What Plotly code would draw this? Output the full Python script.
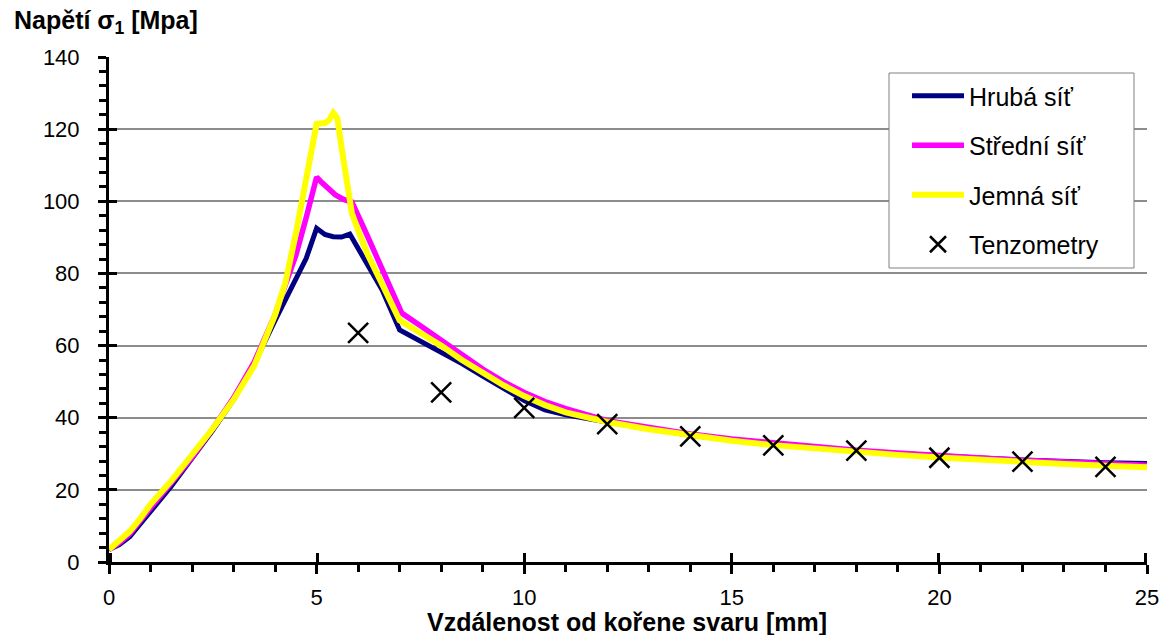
import plotly.graph_objects as go

# Hrubá síť (coarse mesh)
x_hruba = [0, 0.25, 0.5, 0.75, 1, 1.5, 2, 2.5, 3, 3.5, 4, 4.36, 4.75, 5.0, 5.2, 5.4, 5.6, 5.8,
           6.12, 6.58, 7.0, 7.5, 8, 8.5, 9, 9.5, 10, 10.5, 11, 12, 13, 14, 15, 16, 17, 18, 19,
           20, 21, 22, 23, 24, 25]
y_hruba = [3.5, 4.8, 7, 10.3, 14, 21, 28.5, 36.5, 45, 55, 67, 75.4, 84.2, 92.5, 90.8, 90.2, 90.1, 90.9,
           84.6, 75.4, 64.3, 61.3, 58.3, 55, 51.5, 48, 44.8, 42.2, 40.8, 38.8, 36.8, 35.1, 33.8, 32.6,
           31.6, 30.7, 30, 29.3, 28.8, 28.3, 27.8, 27.5, 27.3]

# Střední síť (medium mesh)
x_stredni = [0, 0.25, 0.5, 0.75, 1, 1.5, 2, 2.5, 3, 3.5, 4, 4.25, 4.5, 4.75, 5.0, 5.1, 5.25, 5.45,
             5.65, 5.85, 6.2, 6.6, 7.05, 7.5, 8, 8.5, 9, 9.5, 10, 10.5, 11, 12, 13, 14, 15, 16,
             17, 18, 19, 20, 21, 22, 23, 24, 25]
y_stredni = [3.5, 5.3, 7.8, 11.2, 15, 22, 29, 37, 45.5, 55.5, 68.5, 77, 85, 95.5, 106.7, 105.5, 103.8, 101.8,
             100.5, 99.8, 91, 80.5, 69, 65.5, 61.5, 57.5, 53.5, 50, 47, 44.5, 42.5, 39.2, 37.2, 35.5,
             34.1, 33, 31.9, 31, 30.2, 29.4, 28.8, 28.2, 27.7, 27.2, 26.8]

# Jemná síť (fine mesh)
x_jemna = [0, 0.25, 0.5, 0.75, 1, 1.5, 2, 2.5, 3, 3.5, 4, 4.25, 4.5, 4.75, 4.9, 5.0, 5.2, 5.3,
           5.4, 5.5, 5.6, 5.73, 5.85, 6.0, 6.24, 6.6, 7.0, 7.5, 8, 8.5, 9, 9.5, 10, 10.5, 11, 12,
           13, 14, 15, 16, 17, 18, 19, 20, 21, 22, 23, 24, 25]
y_jemna = [3.5, 6, 8.5, 12, 16, 22.5, 29.5, 37, 45, 54.5, 68.5, 77.5, 91, 106, 116, 121.5, 121.7, 122.5,
           124.5, 123, 115, 106, 96.7, 92, 85, 76.5, 67, 63.5, 60, 56, 52.5, 49, 46, 43.5, 41.5, 38.8,
           36.8, 35, 33.6, 32.4, 31.4, 30.5, 29.7, 29, 28.3, 27.7, 27.2, 26.7, 26.3]

# Tenzometry (strain gauges)
x_tenzo = [6, 8, 10, 12, 14, 16, 18, 20, 22, 24]
y_tenzo = [63.5, 47, 42.7, 38.2, 34.8, 32.3, 30.9, 28.9, 27.8, 26.4]

x_ticks = [0, 5, 10, 15, 20, 25]
y_ticks = [0, 20, 40, 60, 80, 100, 120, 140]

FONT = "Arial, Liberation Sans, sans-serif"

# pixel -> paper helpers (plot area: x 109..1147, y 57..562)
PL, PR, PT, PB = 109, 1147, 57, 562
def px(xp):
    return (xp - PL) / (PR - PL)
def py(yp):
    return (PB - yp) / (PB - PT)

fig = go.Figure()
fig.add_trace(go.Scatter(x=x_hruba, y=y_hruba, mode="lines", name="Hrubá síť",
                         line=dict(color="#000080", width=5), legendgroup="a"))
fig.add_trace(go.Scatter(x=x_stredni, y=y_stredni, mode="lines", name="Střední síť",
                         line=dict(color="#FF00FF", width=5.5), legendgroup="b"))
fig.add_trace(go.Scatter(x=x_jemna, y=y_jemna, mode="lines", name="Jemná síť",
                         line=dict(color="#FFFF00", width=6), legendgroup="c"))
fig.add_trace(go.Scatter(x=x_tenzo, y=y_tenzo, mode="markers", name="Tenzometry",
                         marker=dict(symbol="x-thin", size=20, color="black",
                                     line=dict(color="black", width=2.5)),
                         cliponaxis=False, legendgroup="d"))
# dummy trace for overlay axes (inside halves of crossing major ticks)
fig.add_trace(go.Scatter(x=[None], y=[None], xaxis="x2", yaxis="y2", showlegend=False,
                         hoverinfo="skip"))

fig.update_layout(
    width=1170, height=635,
    margin=dict(l=PL, r=1170 - PR, t=PT, b=635 - PB),
    paper_bgcolor="white", plot_bgcolor="white",
    font=dict(family=FONT, color="black", size=22),
    showlegend=True,
    legend=dict(x=px(907), y=py(73), xanchor="left", yanchor="top",
                bgcolor="rgba(0,0,0,0)", borderwidth=0,
                font=dict(family=FONT, size=25, color="black"),
                tracegroupgap=14, itemwidth=52),
    shapes=[dict(type="rect", xref="paper", yref="paper",
                 x0=px(889), x1=px(1134), y0=py(268), y1=py(73),
                 line=dict(color="#808080", width=1), fillcolor="white", layer="above")],
    xaxis=dict(range=[0, 25], tickvals=x_ticks, ticktext=[str(v) for v in x_ticks],
               showgrid=False, zeroline=False, showline=True, linecolor="black", linewidth=3,
               ticks="outside", ticklen=9, tickwidth=3, tickcolor="black",
               minor=dict(dtick=1, tick0=0, ticks="outside", ticklen=7, tickwidth=3,
                          tickcolor="black", showgrid=False),
               tickfont=dict(size=22), ticklabelstandoff=5),
    yaxis=dict(range=[0, 140], tickvals=y_ticks, ticktext=[str(v) for v in y_ticks],
               showgrid=True, gridcolor="#8c8c8c", gridwidth=1.5, zeroline=False,
               showline=True, linecolor="black", linewidth=3,
               ticks="outside", ticklen=8, tickwidth=3, tickcolor="black",
               minor=dict(dtick=4, tick0=0, ticks="outside", ticklen=7, tickwidth=3,
                          tickcolor="black", showgrid=False),
               tickfont=dict(size=22), ticklabelstandoff=14),
    xaxis2=dict(overlaying="x", anchor="y", side="bottom", range=[-0.03, 25.03], tickvals=x_ticks,
                showticklabels=False, showgrid=False, zeroline=False, showline=False,
                ticks="inside", ticklen=9, tickwidth=3, tickcolor="black"),
    yaxis2=dict(overlaying="y", anchor="x", side="left", range=[-0.25, 140.25], tickvals=y_ticks,
                showticklabels=False, showgrid=False, zeroline=False, showline=False,
                ticks="inside", ticklen=8, tickwidth=3, tickcolor="black"),
    annotations=[
        dict(text="<b>Napětí σ<sub>1</sub> [Mpa]</b>", xref="paper", yref="paper",
             x=px(12), y=py(22), xanchor="left", yanchor="middle",
             showarrow=False, font=dict(family=FONT, size=25, color="black")),
        dict(text="<b>Vzdálenost od kořene svaru [mm]</b>", xref="paper", yref="paper",
             x=px(627), y=py(622), xanchor="center", yanchor="middle",
             showarrow=False, font=dict(family=FONT, size=25, color="black")),
    ],
)

fig.write_html("out.html", config={"displayModeBar": False},
               post_script="document.body.style.margin='0';document.body.style.overflow='hidden';")
